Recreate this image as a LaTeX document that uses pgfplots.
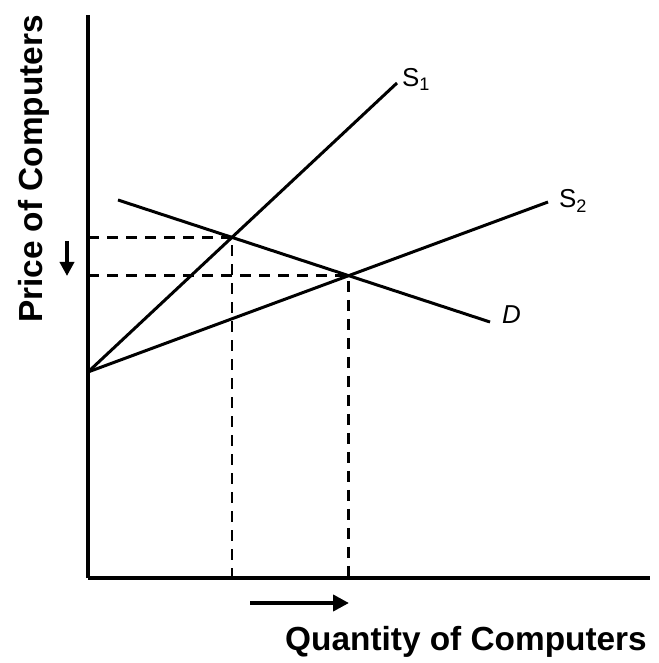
\documentclass[border=0pt]{standalone}
\usepackage{pgfplots}
\pgfplotsset{compat=1.18}
\usepackage{fontspec}
\setmainfont{Liberation Sans}
\usetikzlibrary{arrows.meta}
\begin{document}
\begin{tikzpicture}
\begin{axis}[
  scale only axis,
  width=562bp, height=563bp,
  xmin=0, xmax=562, ymin=0, ymax=563,
  axis lines=left,
  axis line style={line width=3.8bp,-},
  xtick=\empty, ytick=\empty,
  clip=false,
]
% bounding box to match the reference frame
\path (axis cs:-88,-85) rectangle (axis cs:571,578);
% supply and demand
\addplot[black, line width=3bp] coordinates {(0,206) (309,495)};
\addplot[black, line width=3bp] coordinates {(0,206) (460,376)};
\addplot[black, line width=3bp] coordinates {(30,378) (402,256)};
% equilibrium guide lines
\addplot[black, line width=2.8bp, dash pattern=on 11bp off 8bp] coordinates {(0,340.7) (144,340.7) (144,0)};
\addplot[black, line width=2.8bp, dash pattern=on 11bp off 8bp] coordinates {(0,302.3) (260.7,302.3) (260.7,0)};
% arrows
\draw[line width=3.8bp, -{Triangle[length=14bp,width=14bp]}] (axis cs:-21,337) -- (axis cs:-21,302);
\draw[line width=4.8bp, -{Triangle[length=16bp,width=16bp]}] (axis cs:162,-25) -- (axis cs:261,-25);
% curve labels
\node[anchor=base west, inner sep=0pt, font=\fontsize{26}{28}\selectfont] at (axis cs:314,491) {S\textsubscript{1}};
\node[anchor=base west, inner sep=0pt, font=\fontsize{26}{28}\selectfont] at (axis cs:471,370) {S\textsubscript{2}};
\node[anchor=base west, inner sep=0pt, font=\fontsize{26}{28}\selectfont\itshape] at (axis cs:414,254) {D};
% axis labels
\node[anchor=base, inner sep=0pt, rotate=90, font=\fontsize{33.5}{36}\selectfont\bfseries] at (axis cs:-45,409) {Price of Computers};
\node[anchor=base, inner sep=0pt, font=\fontsize{33.5}{36}\selectfont\bfseries] at (axis cs:378,-72) {Quantity of Computers};
\end{axis}
\end{tikzpicture}
\end{document}
